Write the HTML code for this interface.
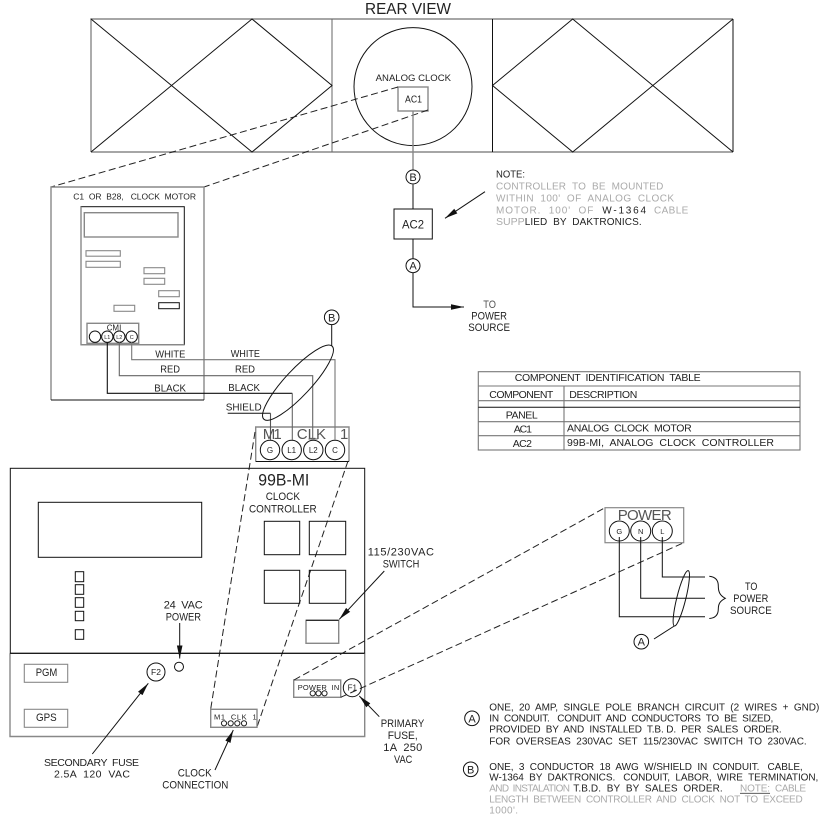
<!DOCTYPE html>
<html>
<head>
<meta charset="utf-8">
<style>
html,body{margin:0;padding:0;background:#fff;width:829px;height:823px;overflow:hidden}
svg{display:block;filter:blur(.3px)}
text{font-family:"Liberation Sans",sans-serif;font-size:10px;fill:#222;white-space:pre}
.g{fill:#aaa}
.m{fill:#555}
.c{text-anchor:middle}
.k{stroke:#111;stroke-width:1;fill:none}
.s{stroke:#888;stroke-width:1.4;fill:none}
.d{stroke:#222;stroke-width:1;fill:none;stroke-dasharray:7 3.5}
</style>
</head>
<body>
<svg width="829" height="823" viewBox="0 0 829 823" xmlns="http://www.w3.org/2000/svg">
<defs>
<marker id="a" markerUnits="userSpaceOnUse" markerWidth="14" markerHeight="8" refX="13" refY="4" orient="auto"><path d="M0 1.2L13 4L0 6.8Z" fill="#111"/></marker>
</defs>

<!-- Rear view -->
<text x="365" y="14" textLength="86" lengthAdjust="spacingAndGlyphs" style="font-size:15.5px">REAR VIEW</text>
<path class="s" d="M91 152V19H733M91 152H733"/>
<path class="s" d="M332 19V152" style="stroke-width:1;stroke:#666"/>
<path class="k" d="M492.5 19V152M733 19V152"/>
<path class="k" d="M91 19L252 152L332 85.5L252 19L91 152"/>
<path class="k" d="M733 19L572.7 152L492.5 85.5L572.7 19L733 152"/>
<circle class="k" cx="413" cy="86.6" r="59"/>
<text x="375.7" y="81" textLength="75.3" lengthAdjust="spacingAndGlyphs" style="font-size:9.5px">ANALOG CLOCK</text>
<rect class="s" x="398" y="87" width="30" height="24"/>
<text x="405" y="102.7" textLength="17" lengthAdjust="spacingAndGlyphs">AC1</text>
<path class="d" d="M398 87L51 187M428 110L204 187"/>
<path class="s" d="M413 111V170"/>
<circle class="k" cx="413" cy="177" r="7"/>
<text class="c" x="413" y="181" style="font-size:11px">B</text>
<path class="s" d="M413 184V209" style="stroke:#555"/>
<rect class="k" x="394" y="209" width="38.3" height="30"/>
<text x="402" y="228.7" textLength="22" lengthAdjust="spacingAndGlyphs" style="font-size:12px">AC2</text>
<path class="k" d="M413 239V258.5"/>
<circle class="k" cx="413" cy="265.7" r="7"/>
<text class="c" x="413" y="269.7" style="font-size:11px">A</text>
<path class="k" d="M413 273V307H464" marker-end="url(#a)"/>
<text x="483.3" y="308" textLength="12.7" lengthAdjust="spacingAndGlyphs" style="font-size:11px" class="m">TO</text>
<text x="471.3" y="319.7" textLength="35.7" lengthAdjust="spacingAndGlyphs" style="font-size:11px">POWER</text>
<text x="468.3" y="331" textLength="41.7" lengthAdjust="spacingAndGlyphs" style="font-size:11px">SOURCE</text>

<!-- Note -->
<text x="496" y="177.3" textLength="29" lengthAdjust="spacingAndGlyphs">NOTE:</text>
<text x="496" y="189.3" textLength="167.3" lengthAdjust="spacing" class="g">CONTROLLER  TO  BE  MOUNTED</text>
<text x="496" y="201.3" textLength="178" lengthAdjust="spacing" class="g">WITHIN  100'  OF  ANALOG  CLOCK</text>
<text x="496" y="213.3" textLength="97.3" lengthAdjust="spacing" class="g">MOTOR.  100'  OF</text>
<text x="602.3" y="213.3" textLength="43.7" lengthAdjust="spacing">W-1364</text>
<text x="654" y="213.3" textLength="34.3" lengthAdjust="spacing" class="g">CABLE</text>
<text x="496" y="225" textLength="28.7" lengthAdjust="spacingAndGlyphs" class="g">SUPP</text>
<text x="524.7" y="225" textLength="117" lengthAdjust="spacing">LIED  BY  DAKTRONICS.</text>
<path class="k" d="M485 191.7L445 218.3" marker-end="url(#a)"/>

<!-- Motor -->
<path class="s" d="M51 400V187H204V400"/>
<path class="k" d="M51 400H204"/>
<rect class="k" x="81" y="206.7" width="103.3" height="138"/>
<path class="s" d="M81 206.7V344.7H184.3"/>
<rect class="s" x="84.3" y="212.7" width="93.7" height="24.3"/>
<text x="73.3" y="199.3" textLength="122.7" lengthAdjust="spacing" style="font-size:8.5px">C1  OR  B28,   CLOCK  MOTOR</text>
<rect class="s" x="86" y="250.7" width="34.3" height="5.5" style="stroke-width:1.1"/>
<rect class="s" x="86" y="261.3" width="34.3" height="6" style="stroke-width:1.1"/>
<rect class="s" x="144" y="267.7" width="20.7" height="6" style="stroke-width:1.1"/>
<rect class="s" x="144" y="278.3" width="20.7" height="6" style="stroke-width:1.1"/>
<rect class="s" x="158.7" y="290.7" width="20.6" height="6" style="stroke-width:1.1"/>
<rect class="k" x="158.7" y="302.7" width="20.6" height="6"/>
<rect class="s" x="114" y="305.3" width="20.7" height="6" style="stroke-width:1.1"/>
<rect class="s" x="87" y="323.3" width="51.7" height="20"/>
<text x="106.7" y="330.7" textLength="14.6" lengthAdjust="spacingAndGlyphs" style="font-size:8.5px">CMI</text>
<circle class="k" cx="95" cy="336.7" r="5.7"/>
<circle class="k" cx="107.3" cy="336.7" r="5.7"/>
<circle class="k" cx="119.3" cy="336.7" r="5.7"/>
<circle class="k" cx="131.7" cy="336.7" r="5.7"/>
<text class="c" x="107.3" y="339" style="font-size:5.5px">L1</text>
<text class="c" x="119.3" y="339" style="font-size:5.5px">L2</text>
<text class="c" x="131.7" y="339" style="font-size:5.5px">C</text>

<!-- Terminal -->
<path class="s" d="M255.7 461.5V427H349V461.5"/>
<path class="k" d="M255.7 461.5H349"/>
<text x="262.7" y="439" textLength="19" lengthAdjust="spacing" class="m" style="font-size:15px">M1</text>
<text x="296.7" y="439" textLength="29.3" lengthAdjust="spacing" class="m" style="font-size:15px">CLK</text>
<text x="340" y="439" class="m" style="font-size:15px">1</text>
<circle class="k" cx="270" cy="450" r="9.7"/>
<circle class="k" cx="291.7" cy="450" r="9.7"/>
<circle class="k" cx="313.3" cy="450" r="9.7"/>
<circle class="k" cx="335" cy="450" r="9.7"/>
<text class="c" x="270" y="453" style="font-size:8px">G</text>
<text class="c" x="291.7" y="453" style="font-size:8px">L1</text>
<text class="c" x="313.3" y="453" style="font-size:8px">L2</text>
<text class="c" x="335" y="453" style="font-size:8px">C</text>
<path class="d" d="M255 432L210.7 709M348 461L257 727"/>

<!-- Wires -->
<path d="M131.7 342V359.7H335V440" fill="none" stroke="#777" stroke-width="1.1"/>
<path d="M119.3 342V375.7H312.7V439M308.5 439H317.5" fill="none" stroke="#666" stroke-width="1.1"/>
<path class="k" d="M107.3 342V393.3H292.3" style="stroke-width:1.1"/>
<path d="M292.3 393.3V440" fill="none" stroke="#666" stroke-width="1.1"/>
<path class="k" d="M227.7 413.3H270.5"/>
<path d="M270.5 413.3V440" fill="none" stroke="#555" stroke-width="1.1"/>
<text x="155.3" y="357.7" textLength="30" lengthAdjust="spacingAndGlyphs">WHITE</text>
<text x="230.7" y="357" textLength="29.3" lengthAdjust="spacingAndGlyphs">WHITE</text>
<text x="160.3" y="372.7" textLength="19.7" lengthAdjust="spacingAndGlyphs">RED</text>
<text x="235" y="372.7" textLength="20" lengthAdjust="spacingAndGlyphs">RED</text>
<text x="154.3" y="391.7" textLength="31.7" lengthAdjust="spacingAndGlyphs">BLACK</text>
<text x="228.3" y="391" textLength="31.7" lengthAdjust="spacingAndGlyphs">BLACK</text>
<text x="225.7" y="410.7" textLength="36" lengthAdjust="spacingAndGlyphs">SHIELD</text>
<ellipse class="k" cx="298" cy="382.7" rx="50" ry="13" transform="rotate(-47 298 382.7)"/>
<circle class="k" cx="331.7" cy="317.3" r="7.3"/>
<text class="c" x="331.7" y="321.3" style="font-size:11px">B</text>
<path class="k" d="M331.7 324.7V346"/>

<!-- Controller -->
<rect class="k" x="10.3" y="468.3" width="354.4" height="185"/>
<path class="s" d="M10 653.3V736.5H364.7V653.3"/>
<path class="k" d="M10 653.3H364.7" style="stroke-width:1.2"/>
<rect class="k" x="38.3" y="502.3" width="163.4" height="55"/>
<rect class="k" x="75.3" y="571.7" width="8.4" height="10"/>
<rect class="k" x="75.3" y="584.7" width="8.4" height="9.6"/>
<rect class="k" x="75.3" y="597.7" width="8.4" height="9.6"/>
<rect class="k" x="75.3" y="611.3" width="8.4" height="9.4"/>
<rect class="k" x="75.3" y="629.7" width="8.4" height="9.6"/>
<rect class="k" x="264.3" y="521.3" width="35.4" height="33.4"/>
<rect class="k" x="309.3" y="521.3" width="36.4" height="33.4"/>
<rect class="k" x="264.3" y="570.3" width="35.4" height="33"/>
<rect class="k" x="309.3" y="570.3" width="36.4" height="33"/>
<rect class="s" x="306" y="620.3" width="32.7" height="23"/>
<path class="k" d="M306 620.3H338.7"/>
<text x="258.3" y="485.7" textLength="51" lengthAdjust="spacingAndGlyphs" style="font-size:16.5px">99B-MI</text>
<text x="265.7" y="500" textLength="34.3" lengthAdjust="spacingAndGlyphs" style="font-size:11px">CLOCK</text>
<text x="249" y="512.3" textLength="67.7" lengthAdjust="spacingAndGlyphs" style="font-size:11px">CONTROLLER</text>
<text x="367.7" y="555.7" textLength="66.3" lengthAdjust="spacing" style="font-size:11px">115/230VAC</text>
<text x="382.7" y="567.3" textLength="36.6" lengthAdjust="spacingAndGlyphs" style="font-size:11px">SWITCH</text>
<path class="k" d="M384.3 571L339.3 619.3" marker-end="url(#a)"/>
<text x="163.7" y="608.3" textLength="39" lengthAdjust="spacing" style="font-size:11px">24  VAC</text>
<text x="165.7" y="620.7" textLength="35.3" lengthAdjust="spacingAndGlyphs" style="font-size:11px">POWER</text>
<path class="k" d="M179.7 623V658.5" marker-end="url(#a)"/>
<rect class="s" x="24.3" y="664.3" width="43.4" height="18" style="stroke-width:1.1"/>
<rect class="s" x="24.3" y="709.3" width="43.4" height="18" style="stroke-width:1.1"/>
<text x="35.7" y="676" textLength="21.6" lengthAdjust="spacingAndGlyphs" style="font-size:11px">PGM</text>
<text x="36" y="721" textLength="20.7" lengthAdjust="spacingAndGlyphs" style="font-size:11px">GPS</text>
<circle class="k" cx="156" cy="672" r="9"/>
<text class="c" x="156" y="675" style="font-size:8.5px">F2</text>
<circle class="k" cx="179" cy="666.7" r="4.5"/>
<path class="k" d="M92.3 754L148.3 683.3" marker-end="url(#a)"/>
<rect class="s" x="210.7" y="709.3" width="46.3" height="18"/>
<text x="214" y="719.3" textLength="42.7" lengthAdjust="spacing" style="font-size:7.5px">M1  CLK  1</text>
<circle cx="224" cy="723.3" r="2.6" fill="none" stroke="#222"/>
<circle cx="230.7" cy="723.3" r="2.6" fill="none" stroke="#222"/>
<circle cx="237.3" cy="723.3" r="2.6" fill="none" stroke="#222"/>
<circle cx="244" cy="723.3" r="2.6" fill="none" stroke="#222"/>
<path class="k" d="M215 770L233.3 730" marker-end="url(#a)"/>
<rect class="s" x="293.7" y="680" width="47" height="17.3"/>
<text x="297.7" y="690" textLength="41.6" lengthAdjust="spacing" style="font-size:7.5px">POWER  IN</text>
<circle cx="312.7" cy="693.3" r="2.6" fill="none" stroke="#222"/>
<circle cx="318.5" cy="693.3" r="2.6" fill="none" stroke="#222"/>
<circle cx="324.5" cy="693.3" r="2.6" fill="none" stroke="#222"/>
<circle class="k" cx="352.3" cy="687.7" r="9"/>
<text class="c" x="352.3" y="690.7" style="font-size:8px">F1</text>
<path class="k" d="M379.3 716.7L359.3 696" marker-end="url(#a)"/>
<text x="44" y="766" textLength="95" lengthAdjust="spacing" style="font-size:10.5px">SECONDARY  FUSE</text>
<text x="54" y="777.7" textLength="76" lengthAdjust="spacing" style="font-size:10.5px">2.5A  120  VAC</text>
<text x="177.7" y="776.7" textLength="34" lengthAdjust="spacingAndGlyphs" style="font-size:11px">CLOCK</text>
<text x="162.3" y="788.7" textLength="66" lengthAdjust="spacingAndGlyphs" style="font-size:11px">CONNECTION</text>
<text x="380.7" y="727" textLength="43.6" lengthAdjust="spacingAndGlyphs" style="font-size:11px">PRIMARY</text>
<text x="387.7" y="739" textLength="30" lengthAdjust="spacingAndGlyphs" style="font-size:11px">FUSE,</text>
<text x="383.3" y="751" textLength="39" lengthAdjust="spacing" style="font-size:11px">1A  250</text>
<text x="394" y="763" textLength="18.3" lengthAdjust="spacingAndGlyphs" style="font-size:11px">VAC</text>

<!-- Power -->
<path class="d" d="M294 680L605 507.7M340.7 697.3L683.7 542.7"/>
<rect class="s" x="605" y="507.7" width="78.7" height="35" style="stroke-width:1.2"/>
<text x="617.7" y="520" textLength="54" lengthAdjust="spacing" class="m" style="font-size:15px">POWER</text>
<circle class="k" cx="619.3" cy="531" r="10"/>
<circle class="k" cx="640.7" cy="531" r="10"/>
<circle class="k" cx="662.3" cy="531" r="10"/>
<text class="c" x="619.3" y="534" style="font-size:7.5px">G</text>
<text class="c" x="640.7" y="534" style="font-size:7.5px">N</text>
<text class="c" x="662.3" y="534" style="font-size:7.5px">L</text>
<path class="k" d="M662.3 537V577H705M640.7 537V598.3H705M619.3 537V616.7H705"/>
<ellipse class="k" cx="681.3" cy="598.3" rx="4.5" ry="28.5" transform="rotate(14 681.3 598.3)"/>
<path class="k" d="M654 639L674.3 626"/>
<circle class="k" cx="641.3" cy="641.7" r="7.3"/>
<text class="c" x="641.3" y="645.7" style="font-size:11px">A</text>
<path class="k" d="M709.3 576.3C716 577 718.3 581 718.3 586C718.3 592 720 595.5 725.3 598.3C720 601 718.3 604 718.3 609C718.3 614 716 618 709.3 618.5"/>
<text x="745" y="590" textLength="12.3" lengthAdjust="spacingAndGlyphs" style="font-size:11px">TO</text>
<text x="733.3" y="602" textLength="35" lengthAdjust="spacingAndGlyphs" style="font-size:11px">POWER</text>
<text x="730" y="614" textLength="41.7" lengthAdjust="spacingAndGlyphs" style="font-size:11px">SOURCE</text>

<!-- Table -->
<g stroke="#777" stroke-width="1.1" fill="none">
<rect x="478.3" y="371.7" width="321.7" height="78.3"/>
<path d="M478.3 386H800M478.3 400.7H800M478.3 421.7H800M478.3 435.7H800M564 386V450"/>
</g>
<path d="M478.3 407.3H800" stroke="#111" stroke-width="1"/>
<text x="514.7" y="381" textLength="186" lengthAdjust="spacing" style="font-size:10.5px">COMPONENT  IDENTIFICATION  TABLE</text>
<text x="489.3" y="398" textLength="64" lengthAdjust="spacing" style="font-size:10.5px">COMPONENT</text>
<text x="569.3" y="398" textLength="68" lengthAdjust="spacing" style="font-size:10.5px">DESCRIPTION</text>
<text x="505.7" y="418.7" textLength="32" lengthAdjust="spacing" style="font-size:10.5px">PANEL</text>
<text x="513.7" y="432.7" textLength="18.3" lengthAdjust="spacing" style="font-size:10.5px">AC1</text>
<text x="512.7" y="447" textLength="19.3" lengthAdjust="spacing" style="font-size:10.5px">AC2</text>
<text x="567" y="431.7" textLength="124.7" lengthAdjust="spacing" style="font-size:10.5px">ANALOG  CLOCK  MOTOR</text>
<text x="567" y="446" textLength="207" lengthAdjust="spacing" style="font-size:10.5px">99B-MI,  ANALOG  CLOCK  CONTROLLER</text>

<!-- Notes -->
<circle class="k" cx="472" cy="718.3" r="7.3"/>
<text class="c" x="472" y="722.3" style="font-size:11px">A</text>
<circle class="k" cx="470.7" cy="769.3" r="7.3"/>
<text class="c" x="470.7" y="773.3" style="font-size:11px">B</text>
<text x="489.3" y="710.7" textLength="330" lengthAdjust="spacing">ONE,  20  AMP,  SINGLE  POLE  BRANCH  CIRCUIT  (2  WIRES  +  GND)</text>
<text x="489.3" y="721.3" textLength="284" lengthAdjust="spacing">IN  CONDUIT.   CONDUIT  AND  CONDUCTORS  TO  BE  SIZED,</text>
<text x="489.3" y="732.3" textLength="292.4" lengthAdjust="spacing">PROVIDED  BY  AND  INSTALLED  T.B. D.  PER  SALES  ORDER.</text>
<text x="489.3" y="744.3" textLength="317.4" lengthAdjust="spacing">FOR  OVERSEAS  230VAC  SET  115/230VAC  SWITCH  TO  230VAC.</text>
<text x="489.3" y="770" textLength="313.4" lengthAdjust="spacing">ONE,  3  CONDUCTOR  18  AWG  W/SHIELD  IN  CONDUIT.   CABLE,</text>
<text x="489.3" y="780.7" textLength="329" lengthAdjust="spacing">W-1364  BY  DAKTRONICS.   CONDUIT,  LABOR,  WIRE  TERMINATION,</text>
<text x="489.3" y="791.7" textLength="80.7" lengthAdjust="spacing" class="g">AND  INSTALATION</text>
<text x="573.3" y="791.7" textLength="149.4" lengthAdjust="spacing">T.B.D.  BY  BY  SALES  ORDER.</text>
<text x="740" y="791.7" textLength="30" lengthAdjust="spacing" class="g">NOTE:</text>
<path d="M740 793.3H770" stroke="#444" stroke-width=".8"/>
<text x="775" y="791.7" textLength="31" lengthAdjust="spacing" class="g">CABLE</text>
<text x="489.3" y="802.7" textLength="313.4" lengthAdjust="spacing" class="g">LENGTH  BETWEEN  CONTROLLER  AND  CLOCK  NOT  TO  EXCEED</text>
<text x="489.3" y="813.7" textLength="28.7" lengthAdjust="spacing" class="g">1000'.</text>
</svg>
</body>
</html>
